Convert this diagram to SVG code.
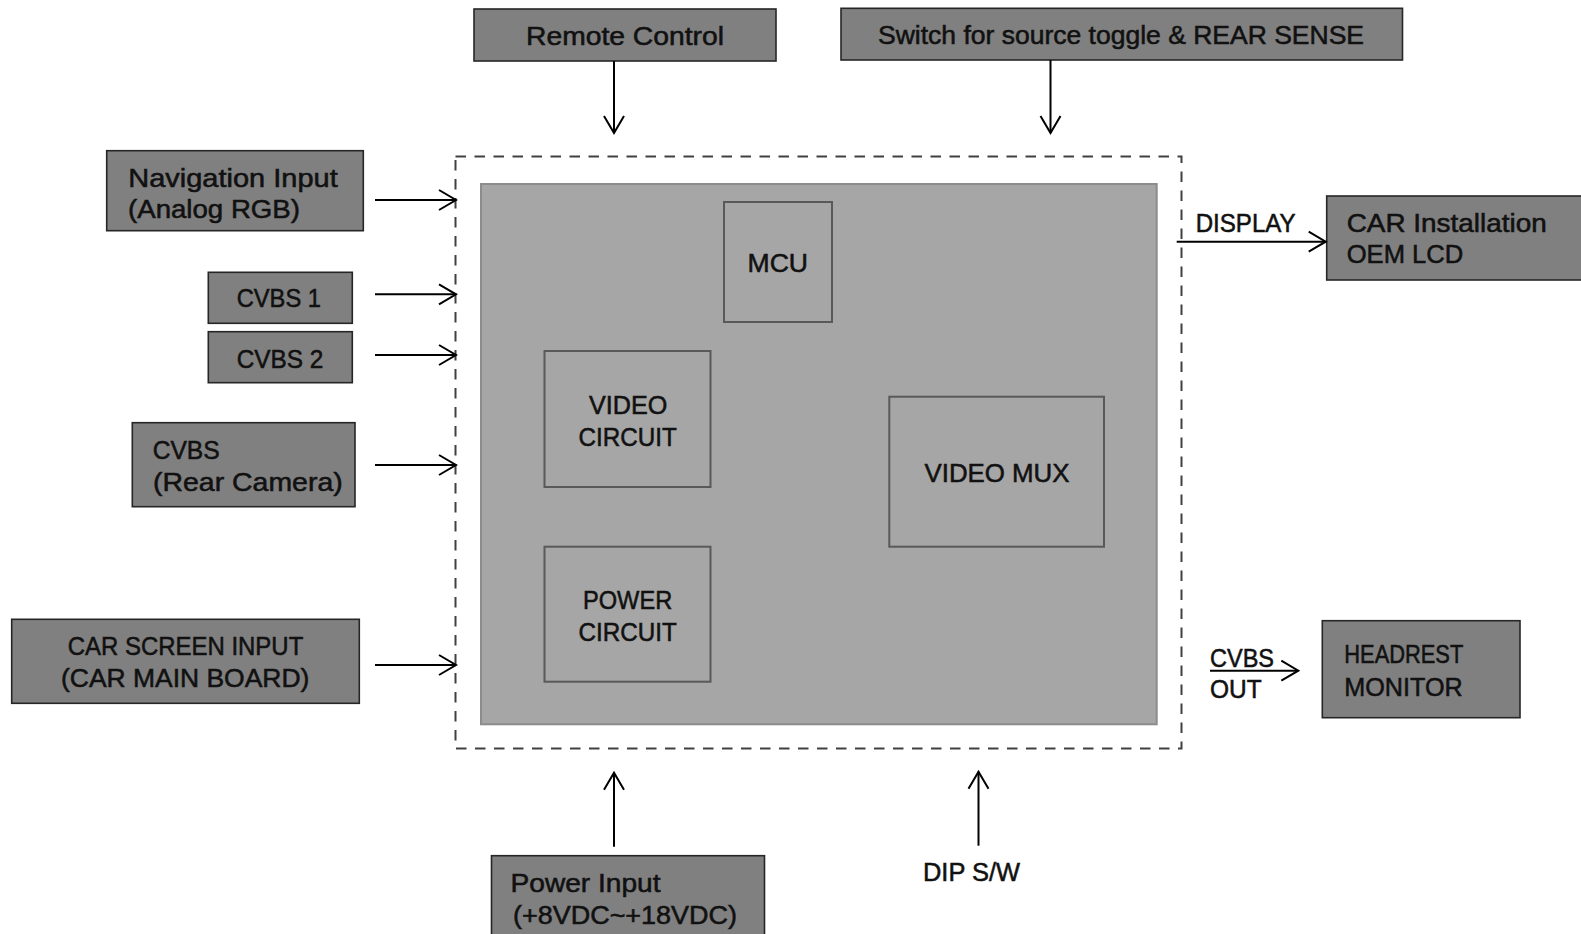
<svg xmlns="http://www.w3.org/2000/svg" width="1581" height="934" viewBox="0 0 1581 934">
<defs>
<style>
.box{fill:#808080;stroke:#262626;stroke-width:1.6}
.inner{fill:#a6a6a6;stroke:#595959;stroke-width:2}
.t{font-family:"Liberation Sans",Arial,sans-serif;font-size:26px;fill:#111;stroke:#111;stroke-width:0.55}
.c{stroke:#000;stroke-width:2;fill:none}
</style>
<marker id="ah" markerUnits="userSpaceOnUse" markerWidth="24" markerHeight="24" viewBox="-20 -12 22 24" refX="0" refY="0" orient="auto">
<path d="M-17,-10 L0,0 L-17,10" fill="none" stroke="#000" stroke-width="2"/>
</marker>
</defs>
<rect width="1581" height="934" fill="#fff"/>

<g id="unit">
<rect x="455.5" y="156.5" width="726" height="592" fill="none" stroke="#404040" stroke-width="2" stroke-dasharray="10.5,8.5"/>
<rect x="481" y="184" width="675.7" height="540.3" fill="#a6a6a6" stroke="#8c8c8c" stroke-width="2"/>
</g>
<g id="mcu"><rect class="inner" x="724" y="202" width="108" height="120"/>
<text class="t" x="747.5" y="271.5" textLength="60.5" lengthAdjust="spacingAndGlyphs">MCU</text></g>
<g id="video-circuit"><rect class="inner" x="544.5" y="351" width="166" height="136"/>
<text class="t" x="589" y="414" textLength="78.3" lengthAdjust="spacingAndGlyphs">VIDEO</text>
<text class="t" x="578.6" y="446" textLength="98.3" lengthAdjust="spacingAndGlyphs">CIRCUIT</text></g>
<g id="power-circuit"><rect class="inner" x="544.5" y="546.7" width="166" height="135"/>
<text class="t" x="583" y="609" textLength="89.2" lengthAdjust="spacingAndGlyphs">POWER</text>
<text class="t" x="578.6" y="640.7" textLength="98.3" lengthAdjust="spacingAndGlyphs">CIRCUIT</text></g>
<g id="video-mux"><rect class="inner" x="889.3" y="396.7" width="214.7" height="150"/>
<text class="t" x="924.5" y="482.3" textLength="145" lengthAdjust="spacingAndGlyphs">VIDEO MUX</text></g>

<g id="remote"><rect class="box" x="474" y="9" width="302" height="52"/>
<text class="t" x="526" y="45" textLength="198" lengthAdjust="spacingAndGlyphs">Remote Control</text></g>
<g id="switch"><rect class="box" x="841" y="8.3" width="561.5" height="51.7"/>
<text class="t" x="878" y="44" textLength="486" lengthAdjust="spacingAndGlyphs">Switch for source toggle &amp; REAR SENSE</text></g>
<g id="nav"><rect class="box" x="106.7" y="150.7" width="256.6" height="80"/>
<text class="t" x="128.3" y="186.5" textLength="209.4" lengthAdjust="spacingAndGlyphs">Navigation Input</text>
<text class="t" x="128" y="217.5" textLength="172" lengthAdjust="spacingAndGlyphs">(Analog RGB)</text></g>
<g id="cvbs1"><rect class="box" x="208.3" y="272.3" width="144" height="51"/>
<text class="t" x="236.7" y="307.3" textLength="84.3" lengthAdjust="spacingAndGlyphs">CVBS 1</text></g>
<g id="cvbs2"><rect class="box" x="208.3" y="331.7" width="144" height="51"/>
<text class="t" x="236.7" y="367.7" textLength="86.6" lengthAdjust="spacingAndGlyphs">CVBS 2</text></g>
<g id="cvbs-rear"><rect class="box" x="132.3" y="422.7" width="222.7" height="84"/>
<text class="t" x="152.7" y="459.3" textLength="67" lengthAdjust="spacingAndGlyphs">CVBS</text>
<text class="t" x="153" y="490.5" textLength="189.7" lengthAdjust="spacingAndGlyphs">(Rear Camera)</text></g>
<g id="car-screen"><rect class="box" x="11.7" y="619.3" width="347.6" height="84"/>
<text class="t" x="67.7" y="655" textLength="235.6" lengthAdjust="spacingAndGlyphs">CAR SCREEN INPUT</text>
<text class="t" x="61" y="687" textLength="248.3" lengthAdjust="spacingAndGlyphs">(CAR MAIN BOARD)</text></g>
<g id="oem-lcd"><rect class="box" x="1326.7" y="196" width="270" height="84"/>
<text class="t" x="1346.7" y="232.3" textLength="200" lengthAdjust="spacingAndGlyphs">CAR Installation</text>
<text class="t" x="1346.7" y="262.7" textLength="116.6" lengthAdjust="spacingAndGlyphs">OEM LCD</text></g>
<g id="headrest"><rect class="box" x="1322.3" y="620.7" width="197.7" height="97"/>
<text class="t" x="1344.3" y="663.3" textLength="119" lengthAdjust="spacingAndGlyphs">HEADREST</text>
<text class="t" x="1344.3" y="695.5" textLength="118.4" lengthAdjust="spacingAndGlyphs">MONITOR</text></g>
<g id="power-input"><rect class="box" x="491.5" y="855.7" width="273" height="90"/>
<text class="t" x="510.5" y="891.5" textLength="150" lengthAdjust="spacingAndGlyphs">Power Input</text>
<text class="t" x="513" y="923.5" textLength="224" lengthAdjust="spacingAndGlyphs">(+8VDC~+18VDC)</text></g>
<g id="dip-sw">
<text class="t" x="923" y="881" textLength="97" lengthAdjust="spacingAndGlyphs">DIP S/W</text></g>

<g id="connectors">
<line class="c" x1="614" y1="61" x2="614" y2="133" marker-end="url(#ah)"/>
<line class="c" x1="1050.5" y1="60" x2="1050.5" y2="133" marker-end="url(#ah)"/>
<line class="c" x1="375" y1="200" x2="456" y2="200" marker-end="url(#ah)"/>
<line class="c" x1="375" y1="294.3" x2="456" y2="294.3" marker-end="url(#ah)"/>
<line class="c" x1="375" y1="355" x2="456" y2="355" marker-end="url(#ah)"/>
<line class="c" x1="375" y1="465" x2="456" y2="465" marker-end="url(#ah)"/>
<line class="c" x1="375" y1="665" x2="456" y2="665" marker-end="url(#ah)"/>
<line class="c" x1="1176.7" y1="241.7" x2="1325.7" y2="241.7" marker-end="url(#ah)"/>
<text class="t" x="1195.7" y="231.7" textLength="100" lengthAdjust="spacingAndGlyphs">DISPLAY</text>
<line class="c" x1="1210" y1="670.7" x2="1298.3" y2="670.7" marker-end="url(#ah)"/>
<text class="t" x="1210" y="666.7" textLength="64" lengthAdjust="spacingAndGlyphs">CVBS</text>
<text class="t" x="1210" y="698.3" textLength="51.7" lengthAdjust="spacingAndGlyphs">OUT</text>
<line class="c" x1="614" y1="846.7" x2="614" y2="772.7" marker-end="url(#ah)"/>
<line class="c" x1="978.5" y1="845.7" x2="978.5" y2="771.7" marker-end="url(#ah)"/>
</g>
</svg>
